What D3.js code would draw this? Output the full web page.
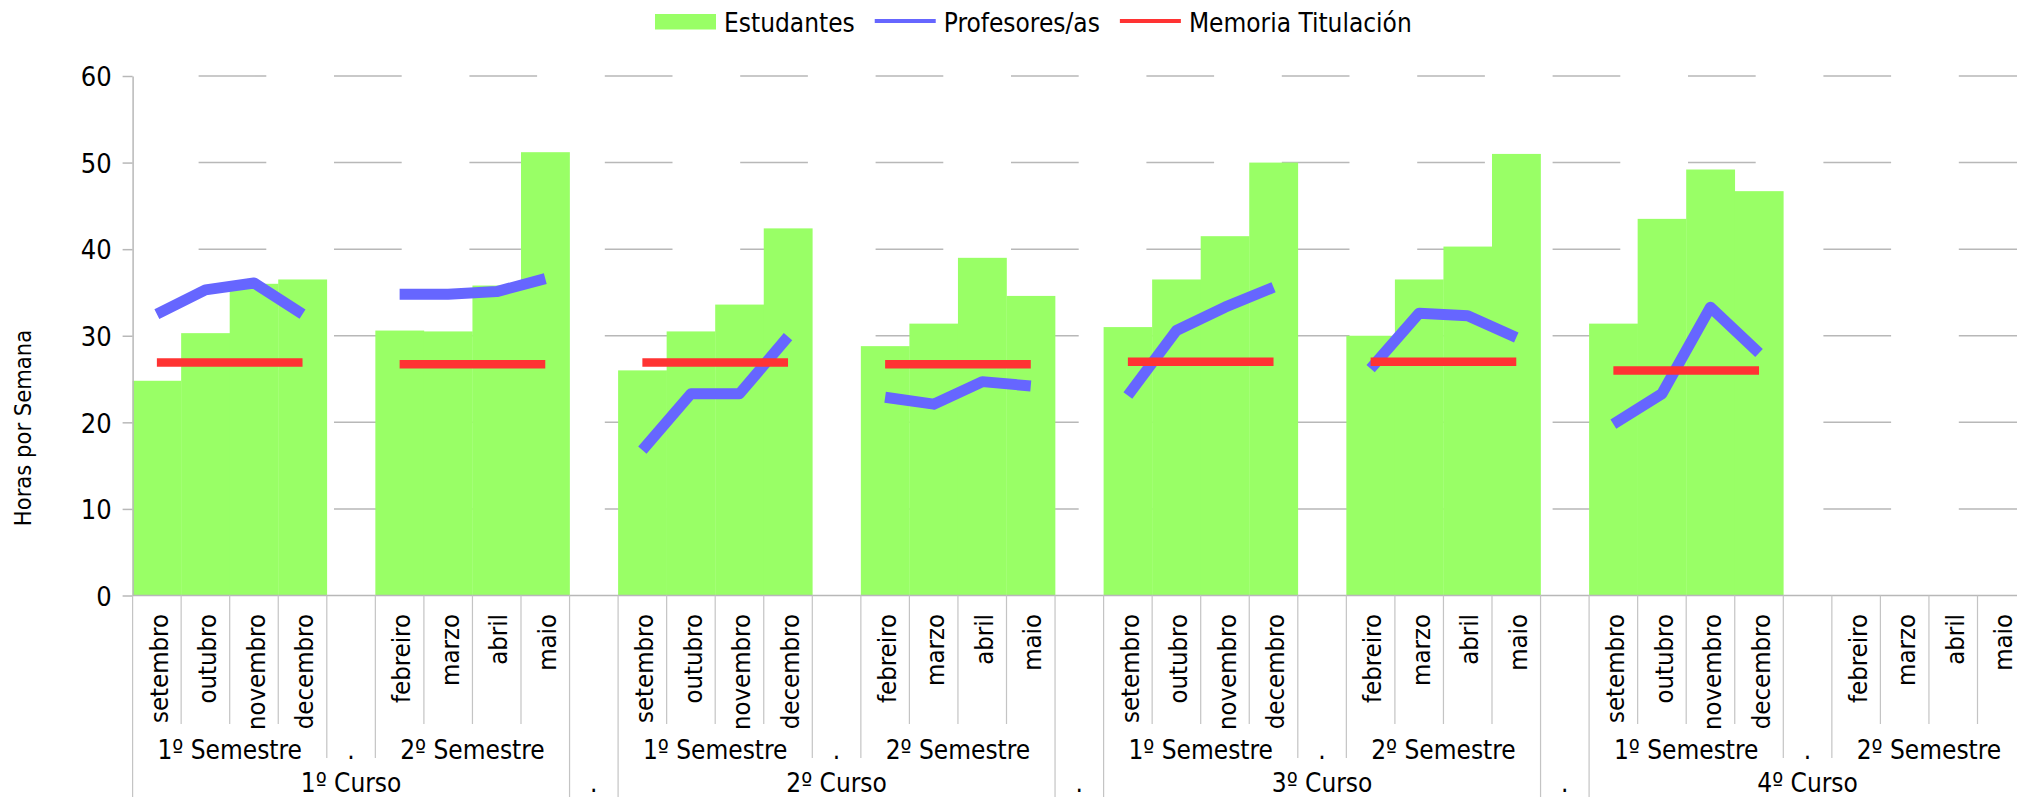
<!DOCTYPE html>
<html>
<head>
<meta charset="utf-8">
<script src="https://cdn.jsdelivr.net/npm/d3@7"></script>
<style>
    body { margin: 0; background: #fff; }
    svg text { font-family: "DejaVu Sans Condensed", "DejaVu Sans", sans-serif; font-stretch: condensed; fill: #000; }
</style>
</head>
<body>
<svg id="chart" width="2017" height="797"></svg>
<script>
// categories
const cursos = ["1º Curso", "2º Curso", "3º Curso", "4º Curso"];
const semestres = ["1º Semestre", "2º Semestre"];
const mesesSem1 = ["setembro", "outubro", "novembro", "decembro"];
const mesesSem2 = ["febreiro", "marzo", "abril", "maio"];
const yTicks = [0, 10, 20, 30, 40, 50, 60];

// values: curso by curso, 8 months each (4 of 1º semestre, 4 of 2º semestre)
const estudantes = [
    24.8, 30.3, 36.0, 36.5,   30.6, 30.5, 35.8, 51.2,
    26.0, 30.5, 33.6, 42.4,   28.8, 31.4, 39.0, 34.6,
    31.0, 36.5, 41.5, 50.0,   30.0, 36.5, 40.3, 51.0,
    31.4, 43.5, 49.2, 46.7,   null, null, null, null
];
const profesores = [
    32.5, 35.3, 36.1, 32.5,   34.8, 34.8, 35.1, 36.6,
    16.8, 23.3, 23.3, 29.9,   22.9, 22.1, 24.7, 24.2,
    23.1, 30.6, 33.3, 35.6,   26.2, 32.6, 32.3, 29.8,
    19.8, 23.3, 33.3, 28.0,   null, null, null, null
];
const memoria = [
    26.9, 26.9, 26.9, 26.9,   26.7, 26.7, 26.7, 26.7,
    26.9, 26.9, 26.9, 26.9,   26.7, 26.7, 26.7, 26.7,
    27.0, 27.0, 27.0, 27.0,   27.0, 27.0, 27.0, 27.0,
    26.0, 26.0, 26.0, 26.0,   null, null, null, null
];

const W = 2017, H = 797;
const left = 132.6, slotW = 48.55;
const y0 = 595.5, yTop = 76;
const green = "#99ff66", blue = "#6666ff", red = "#ff3333", grey = "#b8b8b8";

// build the slots of the hierarchical axis (months, with "." gaps)
const slots = [];
cursos.forEach((c, ci) => {
    [mesesSem1, mesesSem2].forEach((meses, si) => {
        meses.forEach((m, mi) => {
            slots.push({ key: `${ci}-${si}-${mi}`, label: m, curso: ci, sem: si, idx: ci * 8 + si * 4 + mi });
        });
        if (si === 0) slots.push({ key: `${ci}-gap`, gap: "sem", curso: ci });
    });
    if (ci < cursos.length - 1) slots.push({ key: `c${ci}-gap`, gap: "curso" });
});

const x = d3.scaleBand()
    .domain(slots.map(d => d.key))
    .range([left, left + slots.length * slotW])
    .padding(0);
const y = d3.scaleLinear().domain([0, 60]).range([y0, yTop]);
const cx = key => x(key) + x.bandwidth() / 2;
const plotRight = left + slots.length * slotW;

const svg = d3.select("#chart");

// dashed grid
svg.append("g").selectAll("line")
    .data(yTicks.filter(t => t > 0))
    .join("line")
    .attr("x1", left).attr("x2", plotRight)
    .attr("y1", d => y(d)).attr("y2", d => y(d))
    .attr("stroke", grey).attr("stroke-width", 1.5)
    .attr("stroke-dasharray", "67.7,67.7")
    .attr("stroke-dashoffset", 69.4);

// bars
const months = slots.filter(d => !d.gap);
svg.append("g").selectAll("rect")
    .data(months.filter(d => estudantes[d.idx] != null))
    .join("rect")
    .attr("x", d => x(d.key))
    .attr("width", x.bandwidth() + 0.3)
    .attr("y", d => y(estudantes[d.idx]))
    .attr("height", d => y(0) - y(estudantes[d.idx]))
    .attr("fill", green);

// lines, one segment per semester
const groups = d3.groups(months, d => `${d.curso}-${d.sem}`).map(g => g[1]);
function drawSeries(values, color, width, join) {
    const line = d3.line()
        .defined(d => values[d.idx] != null)
        .x(d => cx(d.key))
        .y(d => y(values[d.idx]));
    svg.append("g").selectAll("path")
        .data(groups)
        .join("path")
        .attr("d", line)
        .attr("fill", "none")
        .attr("stroke", color)
        .attr("stroke-width", width)
        .attr("stroke-linejoin", join)
        .attr("stroke-linecap", "butt");
}
drawSeries(profesores, blue, 11, "round");
drawSeries(memoria, red, 8.5, "miter");

// baseline
svg.append("line")
    .attr("x1", left).attr("x2", plotRight)
    .attr("y1", y0).attr("y2", y0)
    .attr("stroke", grey).attr("stroke-width", 1.5);

// y axis
const yAxis = svg.append("g")
    .attr("transform", `translate(${left},0)`)
    .call(d3.axisLeft(y).tickValues(yTicks).tickSize(10).tickSizeOuter(0).tickPadding(11));
yAxis.attr("font-family", null).attr("font-size", null);
yAxis.select(".domain").attr("stroke", grey).attr("stroke-width", 1.5);
yAxis.selectAll(".tick line").attr("stroke", grey).attr("stroke-width", 1.5);
yAxis.selectAll(".tick text")
    .attr("font-size", 27)
    .attr("dy", "0.36em");

svg.append("text")
    .attr("transform", "translate(31,428) rotate(-90)")
    .attr("text-anchor", "middle")
    .attr("font-size", 23.5)
    .text("Horas por Semana");

// hierarchical category axis: boundary lines
const edges = d3.range(slots.length + 1).map(b => {
    const l = slots[b - 1], r = slots[b];
    let depth = 724;
    if (!l || !r || l.gap === "curso" || r.gap === "curso") depth = H;
    else if (l.gap === "sem" || r.gap === "sem") depth = 758;
    return { x: left + b * slotW, depth };
});
svg.append("g").selectAll("line")
    .data(edges)
    .join("line")
    .attr("x1", d => d.x).attr("x2", d => d.x)
    .attr("y1", y0).attr("y2", d => d.depth)
    .attr("stroke", "#c4c4c4").attr("stroke-width", 1.2);

// month labels
svg.append("g").selectAll("text")
    .data(months)
    .join("text")
    .attr("transform", d => `translate(${cx(d.key)},614) rotate(-90)`)
    .attr("text-anchor", "end")
    .attr("dy", "0.42em")
    .attr("font-size", 25.5)
    .text(d => d.label);

// semester labels and "." for the gap between semesters
const semLabels = [];
cursos.forEach((c, ci) => {
    semestres.forEach((s, si) => {
        const first = x(`${ci}-${si}-0`), last = x(`${ci}-${si}-3`) + x.bandwidth();
        semLabels.push({ text: s, x: (first + last) / 2 });
    });
    semLabels.push({ text: ".", x: cx(`${ci}-gap`) });
});
svg.append("g").selectAll("text")
    .data(semLabels)
    .join("text")
    .attr("x", d => d.x).attr("y", 759)
    .attr("text-anchor", "middle")
    .attr("font-size", 26)
    .text(d => d.text);

// curso labels and "." for the gaps between cursos
const cursoLabels = cursos.map((c, ci) => {
    const first = x(`${ci}-0-0`), last = x(`${ci}-1-3`) + x.bandwidth();
    return { text: c, x: (first + last) / 2 };
}).concat(slots.filter(d => d.gap === "curso").map(d => ({ text: ".", x: cx(d.key) })));
svg.append("g").selectAll("text")
    .data(cursoLabels)
    .join("text")
    .attr("x", d => d.x).attr("y", 792)
    .attr("text-anchor", "middle")
    .attr("font-size", 26)
    .text(d => d.text);

// legend
const legendItems = [
    { name: "Estudantes", color: green, type: "rect" },
    { name: "Profesores/as", color: blue, type: "line" },
    { name: "Memoria Titulación", color: red, type: "line" }
];
const legend = svg.append("g");
let lx = 655;
legendItems.forEach(item => {
    if (item.type === "rect") {
        legend.append("rect").attr("x", lx).attr("y", 14).attr("width", 61).attr("height", 15.5).attr("fill", item.color);
    } else {
        legend.append("line").attr("x1", lx).attr("x2", lx + 61).attr("y1", 21).attr("y2", 21)
            .attr("stroke", item.color).attr("stroke-width", 4);
    }
    const t = legend.append("text").attr("x", lx + 69).attr("y", 31.5).attr("font-size", 26).text(item.name);
    lx += 69 + t.node().getComputedTextLength() + 20;
});
</script>
</body>
</html>
